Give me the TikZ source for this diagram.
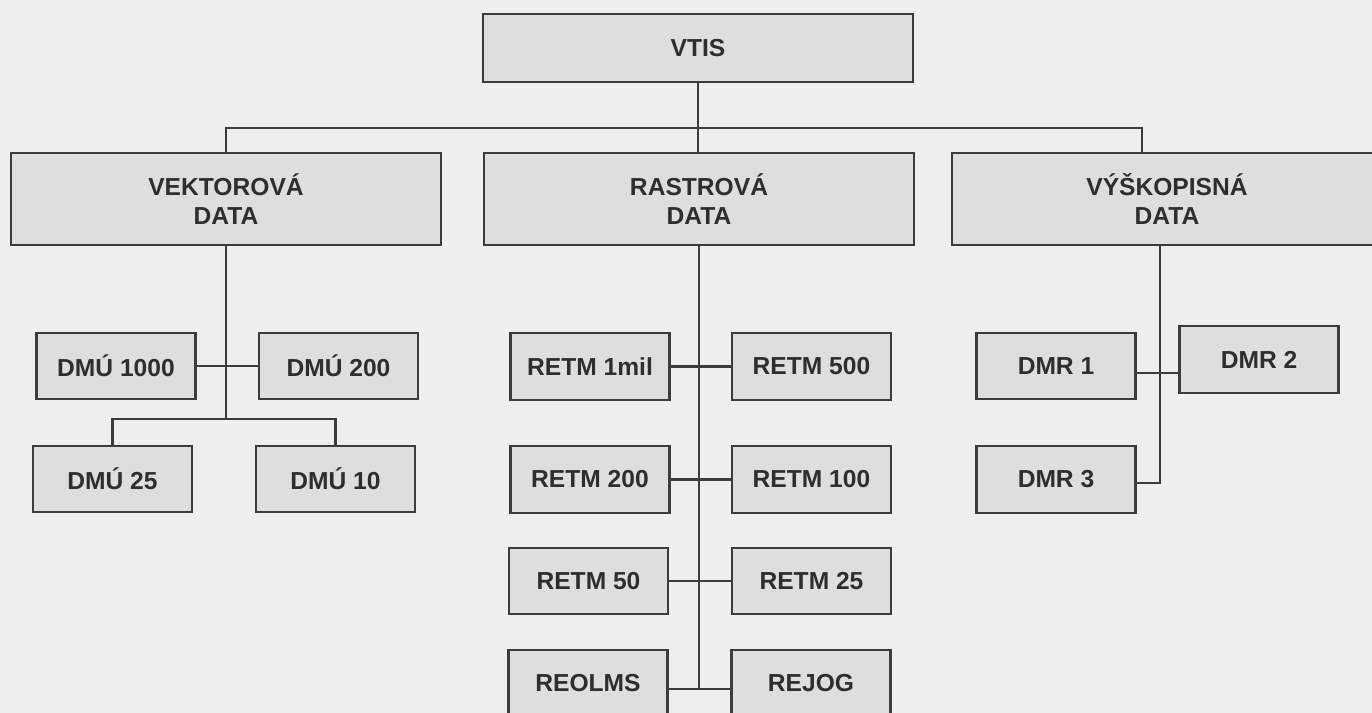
\documentclass[tikz,border=0pt]{standalone}
\usepackage{fontspec}
\setmainfont{Liberation Sans}
\usetikzlibrary{calc}

\begin{document}
\begin{tikzpicture}[x=0.02cm, y=-0.02cm,
    box/.style={draw=borderColour, fill=fillColour, line width=1.2pt, text=textColour,
        font=\fontsize{14}{16.5}\selectfont\bfseries, align=center, inner sep=0pt,
        minimum width=3.18cm, minimum height=1.33cm},
    groupbox/.style={box, minimum width=8.6cm, minimum height=1.83cm},
    topbox/.style={box, minimum width=8.6cm, minimum height=1.36cm},
    link/.style={draw=borderColour, line width=1.2pt}]

    % Define colours of the scan
    \definecolor{paperColour}{HTML}{EFEFEF}
    \definecolor{fillColour}{HTML}{DEDEDE}
    \definecolor{borderColour}{HTML}{3C3C3C}
    \definecolor{textColour}{HTML}{2E2E2E}

    % Page
    \fill[paperColour] (0,0) rectangle (1372,713);
    \clip (0,0) rectangle (1372,713);

    % Top level
    \node[topbox] (vtis) at (698,48) {VTIS};

    % Groups of data
    \node[groupbox] (vektor) at (226,199) {VEKTOROVÁ\\DATA};
    \node[groupbox] (rastr) at (699,199) {RASTROVÁ\\DATA};
    \node[groupbox] (vyskop) at (1167,199) {VÝŠKOPISNÁ\\DATA};

    % Vector data
    \node[box] (dmu1000) at (116,366) {DMÚ 1000};
    \node[box] (dmu200) at (338.5,366) {DMÚ 200};
    \node[box] (dmu25) at (112.5,479) {DMÚ 25};
    \node[box] (dmu10) at (335.5,479) {DMÚ 10};

    % Raster data
    \node[box] (retm1mil) at (590,366.5) {RETM 1mil};
    \node[box] (retm500) at (811.5,366.5) {RETM 500};
    \node[box] (retm200) at (590,479.5) {RETM 200};
    \node[box] (retm100) at (811.5,479.5) {RETM 100};
    \node[box] (retm50) at (588.5,581) {RETM 50};
    \node[box] (retm25) at (811.5,581) {RETM 25};
    \node[box] (reolms) at (588,683.5) {REOLMS};
    \node[box] (rejog) at (811,683.5) {REJOG};

    % Elevation data
    \node[box] (dmr1) at (1056,366) {DMR 1};
    \node[box] (dmr2) at (1259,359.5) {DMR 2};
    \node[box] (dmr3) at (1056,479.5) {DMR 3};

    % Joints of the connectors
    \coordinate (busR) at (1142,128);
    \coordinate (vsplit) at (226,419);
    \coordinate (rend) at (699,689);
    \coordinate (vmid) at (1160,373);
    \coordinate (vend) at (1160,483);

    % Top connectors
    \draw[link] (vtis.south) -- (vtis.south |- rastr.north);
    \draw[link] (vektor.north) |- (busR) -- (busR |- vyskop.north);

    % Vector tree
    \draw[link] (vektor.south) -- (vsplit);
    \draw[link] (dmu1000.east) -- (dmu200.west);
    \draw[link] (dmu25.north) |- (vsplit) -| (dmu10.north);

    % Raster tree
    \draw[link] (rastr.south) -- (rend);
    \draw[link] (retm1mil.east) -- (retm500.west);
    \draw[link] (retm200.east) -- (retm100.west);
    \draw[link] (retm50.east) -- (retm25.west);
    \draw[link] (reolms.east |- rend) -- (rejog.west |- rend);

    % Elevation tree
    \draw[link] (vyskop.south -| vend) -- (vend) -- (vend -| dmr3.east);
    \draw[link] (dmr1.east |- vmid) -- (dmr2.west |- vmid);

\end{tikzpicture}
\end{document}
